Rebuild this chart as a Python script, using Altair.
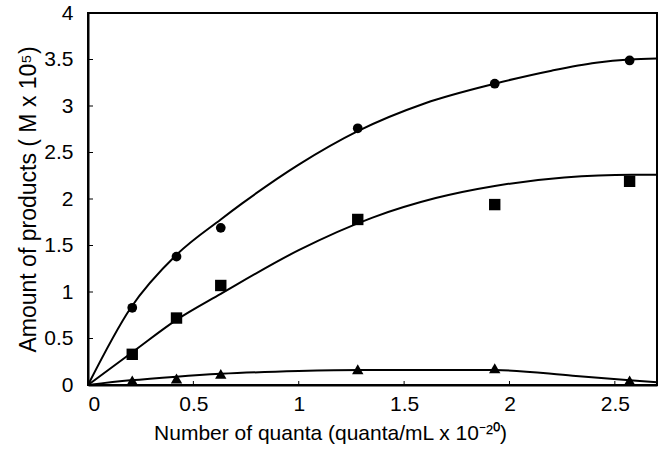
import altair as alt
import pandas as pd

# measured points
x_pts = [0.21, 0.42, 0.63, 1.28, 1.93, 2.57]
circles = [0.83, 1.38, 1.69, 2.76, 3.24, 3.49]
squares = [0.33, 0.72, 1.07, 1.78, 1.94, 2.19]
triangles = [0.05, 0.07, 0.12, 0.17, 0.18, 0.05]

# fitted curves
top_x = [0.0, 0.2, 0.42, 0.63, 0.73, 1.0, 1.28, 1.6, 1.93, 2.2, 2.41, 2.57, 2.7]
top_y = [0.0, 0.82, 1.40, 1.78, 1.95, 2.37, 2.73, 3.03, 3.24, 3.38, 3.465, 3.50, 3.51]
mid_x = [0.0, 0.215, 0.42, 0.63, 1.0, 1.35, 1.65, 1.93, 2.26, 2.58, 2.7]
mid_y = [0.0, 0.36, 0.70, 0.98, 1.45, 1.80, 2.01, 2.14, 2.23, 2.26, 2.26]
low_x = [0.0, 0.2, 0.42, 0.63, 1.0, 1.3, 1.93, 2.3, 2.57, 2.7]
low_y = [0.0, 0.05, 0.09, 0.12, 0.15, 0.16, 0.16, 0.10, 0.05, 0.03]

y_ticks = [0, 0.5, 1, 1.5, 2, 2.5, 3, 3.5, 4]
x_ticks = [0, 0.5, 1, 1.5, 2, 2.5]

FONT = "Liberation Sans"
W, H = 569, 372

xs = alt.Scale(domain=[0, 2.7], nice=False)
ys = alt.Scale(domain=[0, 4], nice=False)

xaxis = alt.Axis(values=x_ticks, format="~g", ticks=False, grid=False,
                 labelFont=FONT, labelFontSize=21, labelPadding=8,
                 labelColor="black", domainColor="black", domainWidth=2,
                 title="Number of quanta (quanta/mL x 10⁻²⁰)",
                 titleFont=FONT, titleFontSize=21, titleFontWeight="normal",
                 titlePadding=8, titleColor="black", titleX=242, titleAlign="center")
yaxis = alt.Axis(values=y_ticks, format="~g", ticks=False, grid=False,
                 labelFont=FONT, labelFontSize=21, labelPadding=15,
                 labelColor="black", domainColor="black", domainWidth=2,
                 title="Amount of products ( M x 10⁵)",
                 titleFont=FONT, titleFontSize=23, titleFontWeight="normal",
                 titlePadding=3, titleColor="black")

pts = pd.DataFrame({
    "x": x_pts * 3,
    "y": circles + squares + triangles,
    "s": ["c"] * 6 + ["s"] * 6 + ["t"] * 6,
})
curves = pd.DataFrame({
    "x": top_x + mid_x + low_x,
    "y": top_y + mid_y + low_y,
    "k": ["a"] * len(top_x) + ["b"] * len(mid_x) + ["c"] * len(low_x),
})

lines = alt.Chart(curves).mark_line(color="black", strokeWidth=2, interpolate="monotone").encode(
    x=alt.X("x:Q", scale=xs, axis=xaxis),
    y=alt.Y("y:Q", scale=ys, axis=yaxis),
    detail="k:N",
)

def pmark(shape, size, key):
    return alt.Chart(pts).transform_filter(alt.datum.s == key).mark_point(
        shape=shape, size=size, filled=True, color="black", opacity=1
    ).encode(x=alt.X("x:Q", scale=xs), y=alt.Y("y:Q", scale=ys))

circ = pmark("circle", 95, "c")
sq = pmark("square", 130, "s")
tri = pmark("triangle-up", 130, "t")

ytk = alt.Chart(pd.DataFrame({"v": y_ticks})).mark_rule(color="black", strokeWidth=1).encode(
    y=alt.Y("v:Q", scale=ys), x=alt.value(0), x2=alt.value(5))
xtk = alt.Chart(pd.DataFrame({"v": x_ticks})).mark_rule(color="black", strokeWidth=1).encode(
    x=alt.X("v:Q", scale=xs), y=alt.value(H), y2=alt.value(H - 4))

chart = alt.layer(lines, ytk, xtk, circ, sq, tri).properties(
    width=W, height=H,
    autosize=alt.AutoSizeParams(type="none"),
    padding={"left": 88, "top": 13, "right": 5, "bottom": 64},
    background="white",
).configure_view(stroke="black", strokeWidth=2)

chart.save("out.html", embed_options={"renderer": "svg", "actions": False})
